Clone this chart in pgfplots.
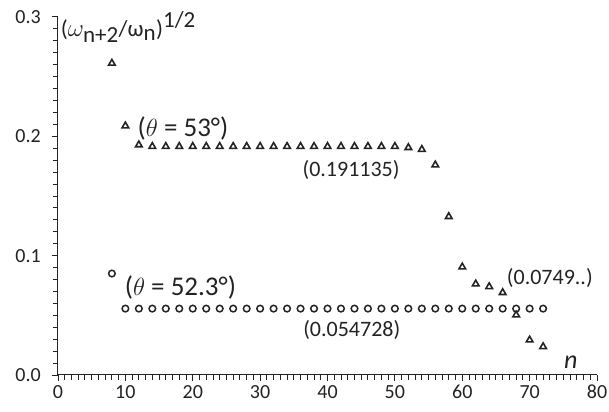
\documentclass[border=0pt]{standalone}
\usepackage{pgfplots}
\pgfplotsset{compat=1.18}
\usepackage{fontspec}
\setmainfont{Carlito}
\definecolor{ink}{RGB}{35,35,35}
\begin{document}
\begin{tikzpicture}
\begin{axis}[
  scale only axis, width=539pt, height=358pt,
  xmin=0, xmax=80, ymin=0, ymax=0.3,
  axis x line=bottom, axis y line=left,
  axis line style={-, ink, line width=1pt},
  xtick={0,10,20,30,40,50,60,70,80}, minor x tick num=9,
  xticklabels={0,10,20,30,40,50,60,70,80},
  ytick={0,0.1,0.2,0.3}, minor y tick num=9,
  yticklabels={0.0,0.1,0.2,0.3},
  tick align=outside,
  major tick length=6pt, minor tick length=5pt,
  tick style={ink, line width=0.9pt},
  every tick label/.style={font=\fontsize{20}{22}\selectfont, text=ink, inner sep=0pt},
  xticklabel style={yshift=-4pt},
  yticklabel style={xshift=-11pt},
  clip=false,
]
\addplot[only marks, mark=triangle, mark size=3.8pt, ink, line width=1.6pt] coordinates {
(8,0.2612)(10,0.2087)(12,0.1928)(14,0.1915)(16,0.1915)(18,0.1915)(20,0.1915)
(22,0.1915)(24,0.1915)(26,0.1915)(28,0.1915)(30,0.1915)(32,0.1915)(34,0.1915)
(36,0.1915)(38,0.1915)(40,0.1915)(42,0.1915)(44,0.1915)(46,0.1915)(48,0.1915)
(50,0.1915)(52,0.1905)(54,0.1890)(56,0.1760)(58,0.1327)(60,0.0905)(62,0.0763)
(64,0.0740)(66,0.0690)(68,0.0503)(70,0.0293)(72,0.0237)};
\addplot[only marks, mark=o, mark size=3.3pt, ink, line width=1.5pt] coordinates {
(8,0.0850)(10,0.0556)(12,0.0556)(14,0.0556)(16,0.0556)(18,0.0556)(20,0.0556)
(22,0.0556)(24,0.0556)(26,0.0556)(28,0.0556)(30,0.0556)(32,0.0556)(34,0.0556)
(36,0.0556)(38,0.0556)(40,0.0556)(42,0.0556)(44,0.0556)(46,0.0556)(48,0.0556)
(50,0.0556)(52,0.0556)(54,0.0556)(56,0.0556)(58,0.0556)(60,0.0556)(62,0.0556)
(64,0.0556)(66,0.0556)(68,0.0556)(70,0.0556)(72,0.0556)};
\begin{scope}[every node/.style={text=ink, font=\fontsize{22}{24}\selectfont, inner sep=0pt}]
\node[anchor=west, font=\fontsize{23}{25}\selectfont] at (axis cs:0.4,0.2915) {($\omega_{\textrm{n+2}}$/ω$_{\textrm{n}}$)$^{\textrm{1/2}}$};
\node[anchor=west, font=\fontsize{27}{29}\selectfont] at (axis cs:11.8,0.2067) {($\theta$ = 53°)};
\node at (axis cs:43.5,0.1717) {(0.191135)};
\node[anchor=west, font=\fontsize{27}{29}\selectfont] at (axis cs:9.9,0.0736) {($\theta$ = 52.3°)};
\node at (axis cs:43.6,0.0375) {(0.054728)};
\node[anchor=west] at (axis cs:66.6,0.081) {(0.0749..)};
\node[font=\fontsize{26}{28}\selectfont\itshape] at (axis cs:76.1,0.0105) {n};
\end{scope}
\coordinate (BL) at (axis cs:-8.608,-0.031);
\coordinate (TR) at (axis cs:81.78,0.3142);
\end{axis}
\pgfresetboundingbox
\path[use as bounding box] (BL) rectangle (TR);
\end{tikzpicture}
\end{document}
